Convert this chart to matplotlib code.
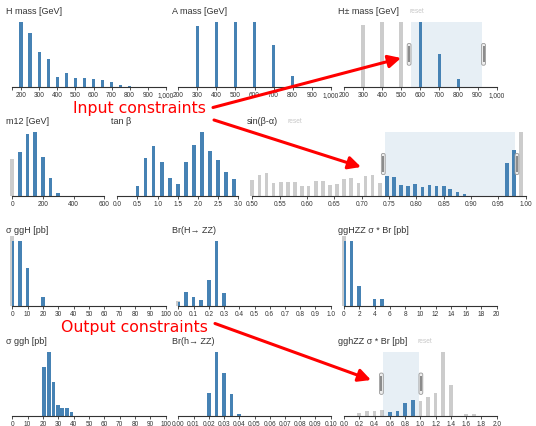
import matplotlib.pyplot as plt
from matplotlib.patches import FancyBboxPatch

W, H = 536, 427
BLUE = '#4682b4'
GRAY = '#cccccc'
plt.rcParams['font.family'] = ['Liberation Sans', 'DejaVu Sans']

# bar heights (pixel units of each chart)
hmass_x = [200, 250, 300, 350, 400, 450, 500, 550, 600, 650, 700, 750, 800]
hmass_y = [65, 54.4, 35, 27.7, 10.4, 13.7, 9.4, 9.4, 7.7, 6.7, 5, 2.4, 1.4]

amass_x = [300, 400, 500, 600, 700, 800]
amass_y = [60.7, 64.7, 65.3, 65.3, 42, 11]

hpm_gray_x = [300, 400, 500]
hpm_gray_y = [62.3, 65, 65]
hpm_x = [600, 700, 800]
hpm_y = [65.3, 33, 8]
hpm_brush = (551, 921)

m12_gray_x = [0]
m12_gray_y = [36.7]
m12_x = [50, 100, 150, 200, 250, 300]
m12_y = [44, 61.7, 63.7, 39, 17.7, 2.3]

tanb_x = [0.5, 0.7, 0.9, 1.1, 1.3, 1.5, 1.7, 1.9, 2.1, 2.3, 2.5, 2.7, 2.9]
tanb_y = [9.3, 37.3, 50, 33.3, 17.7, 11.7, 34, 50.7, 63.7, 45, 35.7, 23.7, 16.3]

sin_gray_x = [0.500, 0.513, 0.526, 0.539, 0.552, 0.565, 0.578, 0.591, 0.603,
              0.616, 0.629, 0.642, 0.655, 0.668, 0.681, 0.694, 0.707, 0.720,
              0.733, 0.992]
sin_gray_y = [15.7, 21, 23, 12.7, 13.7, 13.3, 14, 9.7, 9.7, 15, 14.3, 10.7,
              11.7, 17, 17.7, 12.7, 19.7, 20.7, 13, 63.7]
sin_x = [0.746, 0.759, 0.772, 0.785, 0.798, 0.811, 0.824, 0.837, 0.850, 0.862,
         0.875, 0.888, 0.966, 0.979]
sin_y = [20, 18.7, 10.3, 9.3, 12, 8.7, 10.7, 9.7, 9.3, 6.3, 3.3, 1.3, 33, 45.7]
sin_brush = (0.743, 0.9805)

sggH_gray_x = [0]
sggH_gray_y = [70]
sggH_x = [0, 5, 10, 20]
sggH_y = [64.3, 64.3, 37.3, 8.3]

brH_gray_x = [0]
brH_gray_y = [5]
brH_x = [0, 0.05, 0.1, 0.15, 0.2, 0.25, 0.3]
brH_y = [4, 13.3, 9, 5.7, 25.7, 64.3, 12.3]

gghzzH_gray_x = [0]
gghzzH_gray_y = [70]
gghzzH_x = [0, 1, 2, 4, 5]
gghzzH_y = [64.3, 64.3, 19.3, 6.7, 6.7]

sggh_x = [20.5, 23.8, 26.8, 29.7, 32.6, 35.6, 38.6]
sggh_y = [49, 64, 33.3, 10.7, 7.7, 7.7, 4]

brh_x = [0.02, 0.025, 0.03, 0.035, 0.04]
brh_y = [22.7, 64, 42.3, 21.7, 1.7]

gghzzh_gray_x = [0.2, 0.3, 0.4, 0.5, 1.0, 1.1, 1.2, 1.3, 1.4, 1.6, 1.7]
gghzzh_gray_y = [2.3, 5, 5, 5.7, 14.3, 19, 22.7, 64, 30.7, 1.7, 1.7]
gghzzh_x = [0.6, 0.7, 0.8, 0.9]
gghzzh_y = [3.7, 5, 12.3, 15.3]
gghzzh_brush = (0.515, 0.982)

mass_ticks = [200, 300, 400, 500, 600, 700, 800, 900, 1000]
mass_labels = ['200', '300', '400', '500', '600', '700', '800', '900', '1,000']

# rows: (top, baseline) in pixels
rows = [(22.7, 88), (133.3, 196.7), (242.3, 306.7), (352.7, 416.7)]

fig = plt.figure(figsize=(W / 100, H / 100), dpi=100)
handles = []
titles = []


def chart(title, x0, x1, row, xlim, ticks, labels, bars, gray=None, brush=None, reset=False):
    top, base = rows[row]
    ax = fig.add_axes([x0 / W, 1 - base / H, (x1 - x0) / W, (base - top) / H])
    ax.set_xlim(*xlim)
    ax.set_ylim(0, base - top)
    ax.patch.set_alpha(0)
    for s in ['left', 'right', 'top']:
        ax.spines[s].set_visible(False)
    ax.spines['bottom'].set_color('#333')
    ax.spines['bottom'].set_linewidth(0.8)
    ax.set_yticks([])
    ax.set_xticks(ticks)
    ax.set_xticklabels(labels)
    ax.set_xticks(list(xlim), minor=True)
    ax.tick_params(axis='x', which='both', length=2.2, width=0.6, pad=0.6,
                   labelsize=4.7, colors='#333')
    w = 3.7 * (xlim[1] - xlim[0]) / (x1 - x0)
    if gray is not None:
        ax.bar(gray[0], gray[1], width=w, color=GRAY, lw=0, clip_on=False, zorder=1)
    ax.bar(bars[0], bars[1], width=w, color=BLUE, lw=0, zorder=2)
    if brush is not None:
        ax.axvspan(brush[0], brush[1], color=BLUE, alpha=0.125, lw=0, zorder=3)
        span = (x1 - x0) / (xlim[1] - xlim[0])
        handles.append((x0 + (brush[0] - xlim[0]) * span, -1, top, base))
        handles.append((x0 + (brush[1] - xlim[0]) * span, 1, top, base))
    titles.append((title, x0 - 6, top - 11.5, reset))
    return ax


chart('H mass [GeV]', 12.3, 165.7, 0, (150, 1000), mass_ticks, mass_labels,
      (hmass_x, hmass_y))
chart('A mass [GeV]', 178.3, 330.7, 0, (200, 1000), mass_ticks, mass_labels,
      (amass_x, amass_y))
chart('H\u00b1 mass [GeV]', 344, 496.7, 0, (200, 1000), mass_ticks, mass_labels,
      (hpm_x, hpm_y), (hpm_gray_x, hpm_gray_y), hpm_brush, True)

chart('m12 [GeV]', 12.3, 104.3, 1, (0, 600), [0, 200, 400, 600],
      ['0', '200', '400', '600'], (m12_x, m12_y), (m12_gray_x, m12_gray_y))
tb = [0, 0.5, 1, 1.5, 2, 2.5, 3]
chart('tan \u03b2', 117.3, 238.3, 1, (0, 3), tb, ['%.1f' % t for t in tb],
      (tanb_x, tanb_y))
st = [0.5, 0.55, 0.6, 0.65, 0.7, 0.75, 0.8, 0.85, 0.9, 0.95, 1.0]
chart('sin(\u03b2-\u03b1)', 252.3, 525.7, 1, (0.5, 1.0), st, ['%.2f' % t for t in st],
      (sin_x, sin_y), (sin_gray_x, sin_gray_y), sin_brush, True)

t100 = list(range(0, 101, 10))
chart('\u03c3 ggH [pb]', 12.3, 165.7, 2, (0, 100), t100, [str(t) for t in t100],
      (sggH_x, sggH_y), (sggH_gray_x, sggH_gray_y))
t1 = [i / 10 for i in range(11)]
chart('Br(H\u2192 ZZ)', 178.3, 330.7, 2, (0, 1), t1, ['%.1f' % t for t in t1],
      (brH_x, brH_y), (brH_gray_x, brH_gray_y))
t20 = list(range(0, 21, 2))
chart('ggHZZ \u03c3 * Br [pb]', 344, 496.7, 2, (0, 20), t20, [str(t) for t in t20],
      (gghzzH_x, gghzzH_y), (gghzzH_gray_x, gghzzH_gray_y))

chart('\u03c3 ggh [pb]', 12.3, 165.7, 3, (0, 100), t100, [str(t) for t in t100],
      (sggh_x, sggh_y))
t01 = [i / 100 for i in range(11)]
chart('Br(h\u2192 ZZ)', 178.3, 330.7, 3, (0, 0.1), t01, ['%.2f' % t for t in t01],
      (brh_x, brh_y))
t2 = [i / 5 for i in range(11)]
chart('gghZZ \u03c3 * Br [pb]', 344, 496.7, 3, (0, 2), t2, ['%.1f' % t for t in t2],
      (gghzzh_x, gghzzh_y), (gghzzh_gray_x, gghzzh_gray_y), gghzzh_brush, True)

# overlay in pixel coordinates for titles, brush handles and annotations
ov = fig.add_axes([0, 0, 1, 1])
ov.set_xlim(0, W)
ov.set_ylim(H, 0)
ov.axis('off')
ov.patch.set_alpha(0)

for title, tx, ty, reset in titles:
    t = ov.text(tx, ty, title, fontsize=6.5, color='#333', va='center', ha='left')
    if reset:
        fig.canvas.draw()
        bb = t.get_window_extent()
        ov.text(bb.x1 + 10, ty, 'reset', fontsize=4.8, color='#c8c8c8',
                va='center', ha='left')

for hx, side, top, base in handles:
    h = base - top
    y0 = top + h / 3
    hw = 3.8
    left = hx - hw if side < 0 else hx
    ov.add_patch(FancyBboxPatch((left, y0), hw, h / 3,
                                boxstyle='round,pad=0,rounding_size=1.6',
                                fc='#eeeeee', ec='#999999', lw=0.6, zorder=5))
    cx = left + hw / 2
    ov.plot([cx, cx], [y0 + 3, y0 + h / 3 - 3], color='#8a8a8a', lw=1.4,
            solid_capstyle='butt', zorder=6)

arrow = dict(arrowstyle='-|>,head_length=0.75,head_width=0.38', color='red',
             lw=2.2, mutation_scale=10, shrinkA=0, shrinkB=0)
ov.annotate('', xy=(401, 59), xytext=(213, 108.5), arrowprops=arrow)
ov.annotate('', xy=(361, 168), xytext=(214, 121), arrowprops=arrow)
ov.annotate('', xy=(371, 381), xytext=(215, 324.5), arrowprops=arrow)

ov.text(73, 113, 'Input constraints', color='red', fontsize=11.3,
        family='DejaVu Sans', va='baseline', ha='left')
ov.text(61, 332.5, 'Output constraints', color='red', fontsize=11.3,
        family='DejaVu Sans', va='baseline', ha='left')

fig.savefig('out.png', dpi=100)
